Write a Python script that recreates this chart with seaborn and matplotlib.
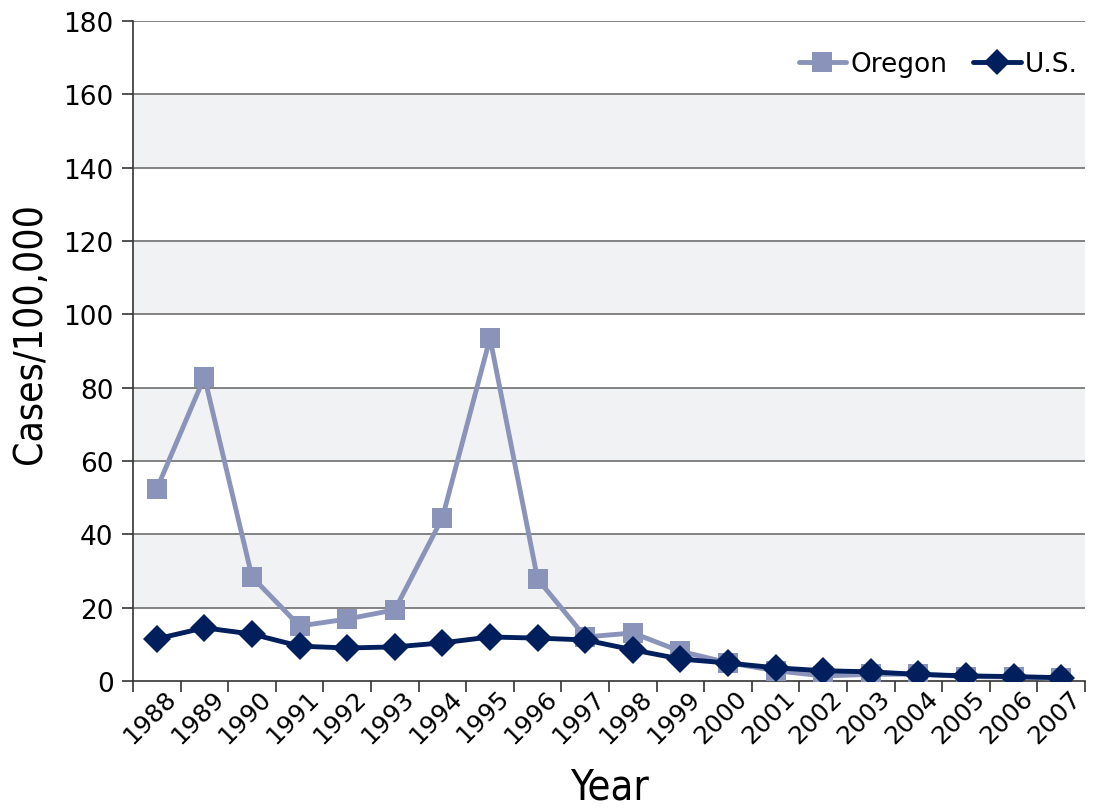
import matplotlib
matplotlib.use("Agg")
import matplotlib.pyplot as plt
import matplotlib.transforms as mtransforms
from matplotlib.ticker import FixedLocator, NullFormatter
from matplotlib.lines import Line2D
import seaborn as sns
import pandas as pd
import numpy as np

years = [str(y) for y in range(1988, 2008)]
oregon = [52.4, 82.9, 28.4, 15.0, 16.9, 19.4, 44.5, 93.5, 27.8, 12.0,
          13.1, 8.1, 5.0, 2.8, 1.4, 1.8, 1.9, 1.2, 1.1, 0.7]
us = [11.5, 14.5, 12.8, 9.5, 9.0, 9.3, 10.4, 12.0, 11.7, 11.2,
      8.5, 6.0, 4.9, 3.6, 2.8, 2.5, 1.8, 1.4, 1.2, 0.9]
series_names = ["Oregon", "U.S."]
y_ticks = list(range(0, 181, 20))

sns.set_theme(style="white")
plt.rcParams["font.family"] = ["DejaVu Sans"]

df = pd.DataFrame({
    "Year": list(range(len(years))) * 2,
    "Cases": oregon + us,
    "Series": [series_names[0]] * len(years) + [series_names[1]] * len(years),
})

fig = plt.figure(figsize=(10.93, 8.12), dpi=100)
ax = fig.add_axes([133 / 1093, 1 - 682 / 812, (1085 - 133) / 1093, (682 - 22) / 812])

# alternating horizontal bands
for lo in range(20, 180, 40):
    ax.axhspan(lo, lo + 20, color="#F1F2F4", zorder=0, lw=0)
for yv in y_ticks[1:]:
    ax.axhline(yv, color="#6E6E6E", lw=1.2, zorder=1)

palette = {"Oregon": "#8A93B9", "U.S.": "#001F5C"}
sns.lineplot(data=df, x="Year", y="Cases", hue="Series", style="Series",
             markers={"Oregon": "s", "U.S.": "D"}, dashes=False,
             palette=palette, ax=ax, legend=False, zorder=3)
for line, ms in zip(ax.lines[-2:], [15, 14]):
    line.set_markersize(ms)
    line.set_linewidth(3.5)
    line.set_markeredgewidth(0)

ax.set_xlim(-0.5, len(years) - 0.5)
ax.set_ylim(0, 180)
ax.set_yticks(y_ticks)
ax.set_yticklabels([str(v) for v in y_ticks], fontsize=19, color="black")

ax.set_xticks(range(len(years)))
ax.set_xticklabels(years, rotation=45, ha="right", va="top", fontsize=18, color="black")
ax.tick_params(axis="x", which="major", length=0, pad=3)
ax.xaxis.set_minor_locator(FixedLocator(np.arange(-0.5, len(years), 1.0)))
ax.xaxis.set_minor_formatter(NullFormatter())
ax.tick_params(axis="x", which="minor", length=8, width=1.2, color="#333333", bottom=True)
ax.tick_params(axis="y", which="major", length=8, width=1.2, color="#333333", left=True, pad=6)
offset = mtransforms.ScaledTranslation(24 / 100, 0, fig.dpi_scale_trans)
for lbl in ax.get_xticklabels():
    lbl.set_transform(lbl.get_transform() + offset)

for side in ["top", "right"]:
    ax.spines[side].set_visible(False)
for side in ["left", "bottom"]:
    ax.spines[side].set_color("#333333")
    ax.spines[side].set_linewidth(1.2)

ax.set_xlabel("Year", fontsize=30, color="black", fontstretch="condensed")
ax.set_ylabel("Cases/100,000", fontsize=28, color="black", fontstretch="condensed")
ax.xaxis.set_label_coords(0.5, -(788 - 682) / 660, transform=ax.transAxes)
ax.xaxis.label.set_va("center")
ax.yaxis.set_label_coords(-(133 - 30) / 952, (682 - 333) / 660, transform=ax.transAxes)
ax.yaxis.label.set_va("center")

handles = [
    Line2D([], [], color=palette["Oregon"], marker="s", markersize=14, lw=3.5, markeredgewidth=0),
    Line2D([], [], color=palette["U.S."], marker="D", markersize=13, lw=3.5, markeredgewidth=0),
]
leg = ax.legend(handles, series_names, loc="upper right", ncol=2, frameon=False,
                fontsize=19, handlelength=1.8, handletextpad=0.15, columnspacing=1.0,
                bbox_to_anchor=(1.012, 0.982), borderaxespad=0.3)
for t in leg.get_texts():
    t.set_color("black")
leg.set_zorder(5)

fig.savefig("out.png", dpi=100, facecolor="white")
